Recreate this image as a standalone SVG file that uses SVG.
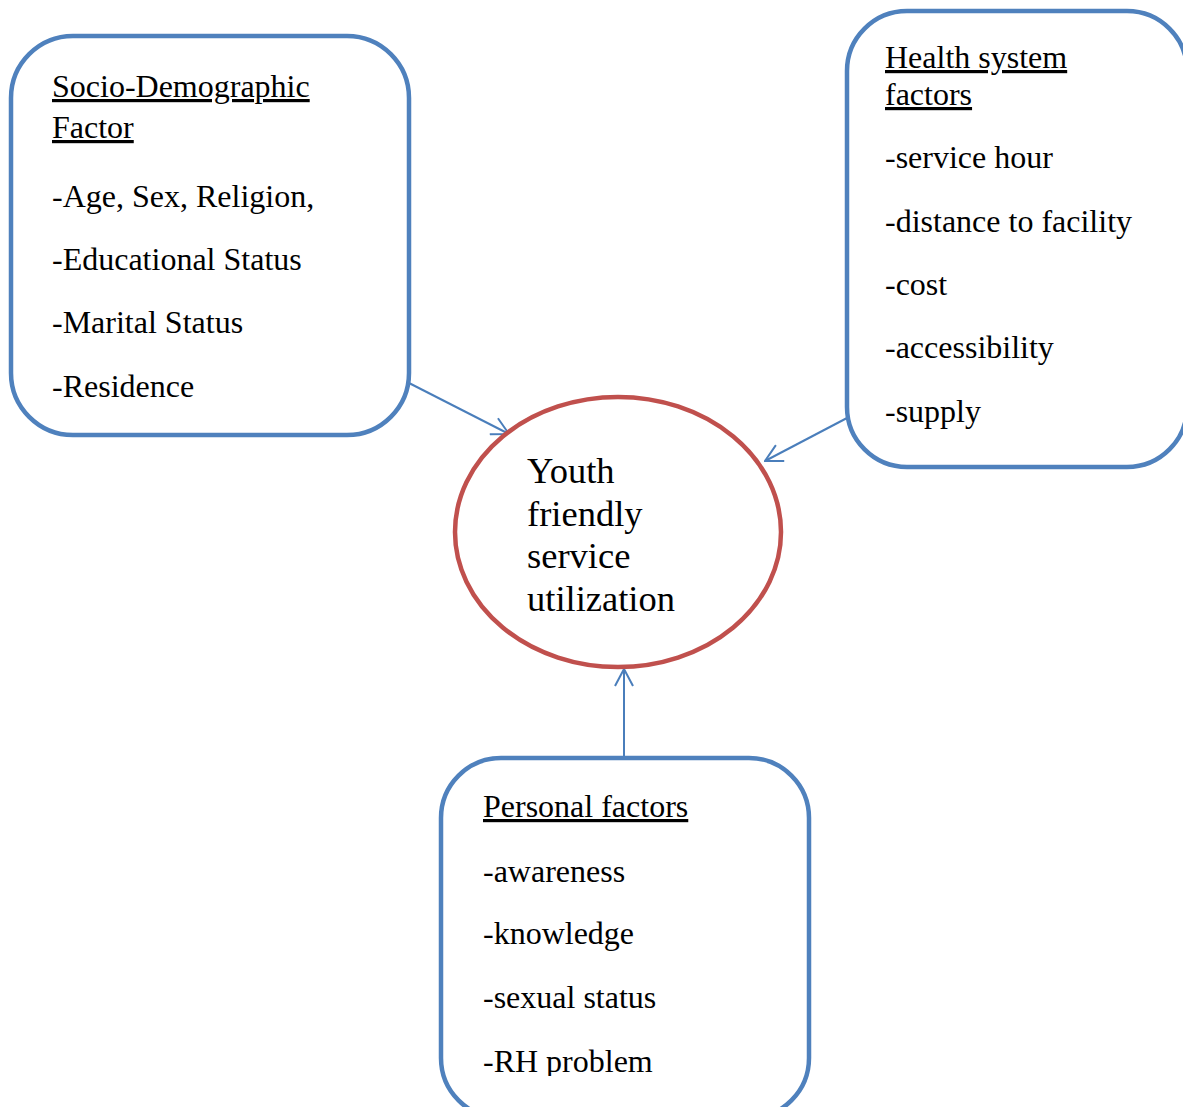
<svg xmlns="http://www.w3.org/2000/svg" width="1183" height="1107" viewBox="0 0 1183 1107">
<style>
.box{fill:#fff;stroke:#4F81BD;stroke-width:4.5}
.ell{fill:#fff;stroke:#C0504D;stroke-width:4.5}
.t{font-family:"Liberation Serif","Times New Roman",serif;font-size:32px;fill:#000}
.h{text-decoration:underline}
.c{font-family:"Liberation Serif","Times New Roman",serif;font-size:36.5px;fill:#000}
.conn{stroke:#4A7EBB;stroke-width:2;fill:none}
</style>
<defs>
<marker id="arr2" viewBox="0 0 20 20" refX="19" refY="10" markerWidth="20" markerHeight="20" markerUnits="userSpaceOnUse" orient="auto">
<path d="M2,1 L19,10 L2,19" fill="none" stroke="#4A7EBB" stroke-width="2"/>
</marker>
<clipPath id="clip3"><rect x="440" y="757" width="372" height="319"/></clipPath>
</defs>
<g id="connectors">
<line class="conn" x1="409" y1="383" x2="509" y2="434" marker-end="url(#arr2)"/>
<line class="conn" x1="847" y1="418" x2="765" y2="461" marker-end="url(#arr2)"/>
<line class="conn" x1="624" y1="757" x2="624" y2="669" marker-end="url(#arr2)"/>
</g>
<g id="center">
<ellipse class="ell" cx="618" cy="532" rx="163" ry="135"/>
<text class="c" x="527" y="483">Youth</text>
<text class="c" x="527" y="526">friendly</text>
<text class="c" x="527" y="568">service</text>
<text class="c" x="527" y="611">utilization</text>
</g>
<g id="socio">
<rect class="box" x="11" y="36" width="398" height="399" rx="62" ry="62"/>
<text class="t h" x="52" y="97">Socio-Demographic</text>
<text class="t h" x="52" y="138">Factor</text>
<text class="t" x="52" y="207">-Age, Sex, Religion,</text>
<text class="t" x="52" y="270">-Educational Status</text>
<text class="t" x="52" y="333">-Marital Status</text>
<text class="t" x="52" y="397">-Residence</text>
</g>
<g id="health">
<rect class="box" x="847" y="11" width="340" height="456" rx="60" ry="60"/>
<text class="t h" x="885" y="68">Health system</text>
<text class="t h" x="885" y="105">factors</text>
<text class="t" x="885" y="168">-service hour</text>
<text class="t" x="885" y="232">-distance to facility</text>
<text class="t" x="885" y="295">-cost</text>
<text class="t" x="885" y="358">-accessibility</text>
<text class="t" x="885" y="422">-supply</text>
</g>
<g id="personal">
<rect class="box" x="441" y="758" width="368" height="360" rx="60" ry="60"/>
<text class="t h" x="483" y="817">Personal factors</text>
<text class="t" x="483" y="882">-awareness</text>
<text class="t" x="483" y="944">-knowledge</text>
<text class="t" x="483" y="1008">-sexual status</text>
<text class="t" x="483" y="1072" clip-path="url(#clip3)">-RH problem</text>
</g>
</svg>
